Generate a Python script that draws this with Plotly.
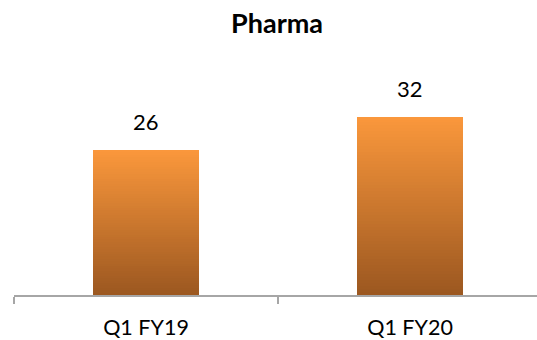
import plotly.graph_objects as go

categories = ["Q1 FY19", "Q1 FY20"]
values = [26, 32]
title_text = "Pharma"

FONT = "Lato"
TOP = (251, 152, 60)
BOTTOM = (155, 87, 32)
N = 60

fig = go.Figure()
for k in range(N):
    t = (k + 0.5) / N  # 0 at bottom, 1 at top
    c = tuple(round(BOTTOM[j] + (TOP[j] - BOTTOM[j]) * t) for j in range(3))
    fig.add_trace(go.Bar(
        x=categories,
        y=[v / N for v in values],
        marker=dict(color="rgb(%d,%d,%d)" % c, line=dict(width=0)),
        width=0.405,
        showlegend=False,
        hoverinfo="skip",
    ))

for cat, v in zip(categories, values):
    fig.add_annotation(x=cat, y=v, text=str(v), showarrow=False,
                       yanchor="bottom", yshift=13,
                       font=dict(family=FONT, size=22, color="#000000"))

fig.update_layout(
    barmode="stack",
    bargap=0,
    width=537, height=340,
    margin=dict(l=14, r=0, t=40, b=45),
    paper_bgcolor="white", plot_bgcolor="white",
    title=dict(text="<b>" + title_text + "</b>", x=0.516, xanchor="center",
               y=0.93, yanchor="middle",
               font=dict(family=FONT, size=27, color="#000000")),
    xaxis=dict(type="category", range=[-0.5, 1.481],
               showline=True, linecolor="#A6A6A6", linewidth=1.5,
               ticks="outside", tickson="boundaries", ticklen=7,
               tickcolor="#A6A6A6", tickwidth=1.5,
               ticklabelstandoff=12,
               tickfont=dict(family=FONT, size=21.5, color="#000000"),
               showgrid=False, zeroline=False, fixedrange=True),
    yaxis=dict(range=[0, 255 / 5.577], visible=False, showgrid=False,
               zeroline=False, fixedrange=True),
)

fig.write_html("out.html")
